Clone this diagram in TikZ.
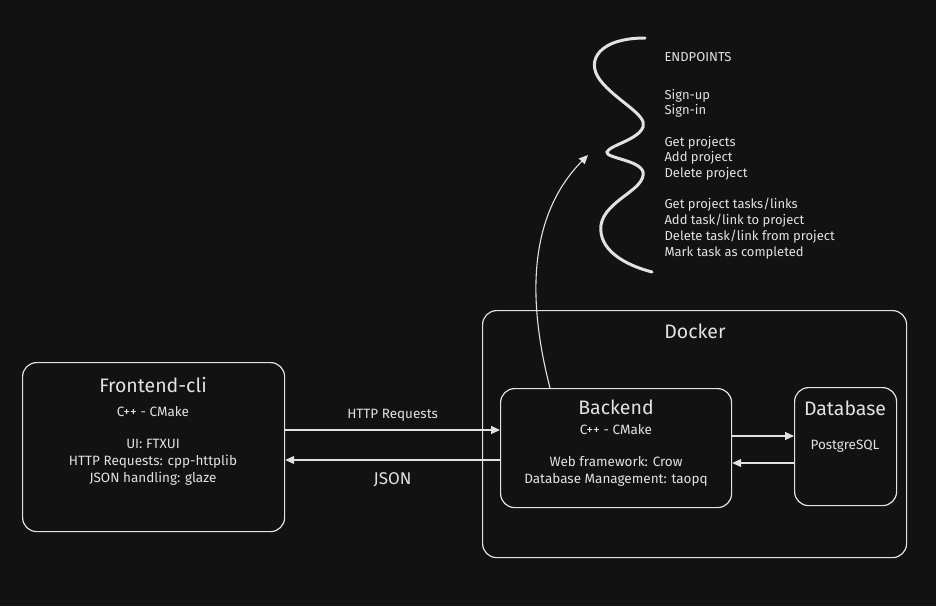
\documentclass[tikz,border=0pt]{standalone}
\usepackage{fontspec}
\setmainfont{Fira Sans}
\usetikzlibrary{arrows.meta}
\definecolor{board}{HTML}{121212}
\definecolor{chalk}{HTML}{E2E2E2}
\tikzset{
box/.style={draw=chalk, line width=1.2pt, rounded corners=14pt, anchor=north west, inner sep=0pt},
label/.style={text=chalk, font=\fontsize{13.5}{17}\selectfont},
title/.style={text=chalk, font=\fontsize{19.5}{21}\selectfont},
arr/.style={draw=chalk, line width=1.1pt, -{Triangle[length=9pt,width=8pt]}}
}

\begin{document}
\begin{tikzpicture}[x=1pt, y=-1pt]
  \fill[board] (0,0) rectangle (936,606);
  \useasboundingbox (0,0) rectangle (936,606);
% boxes
\node[box, minimum width=262pt, minimum height=169pt] (frontend) at (22,362) {};
\node[box, minimum width=424pt, minimum height=247pt] (docker) at (482,310) {};
\node[box, minimum width=231pt, minimum height=119pt] (backend) at (500,388) {};
\node[box, minimum width=102pt, minimum height=118pt] (database) at (794,387) {};
% texts
\node[title] (fetitle) at (153,385) {Frontend-cli};
\node[label] (fetool) at (153,412) {C++ - CMake};
\node[label, align=center] (felibs) at (153,462) {UI: FTXUI\\HTTP Requests: cpp-httplib\\JSON handling: glaze};
\node[title] (dktitle) at (695,331) {Docker};
\node[title] (betitle) at (616,407) {Backend};
\node[label] (betool) at (616,430) {C++ - CMake};
\node[label, align=center] (belibs) at (616,471) {Web framework: Crow\\Database Management: taopq};
\node[title] (dbtitle) at (845,408) {Database};
\node[label] (dbtool) at (845,446) {PostgreSQL};
% connectors
\draw[arr] (frontend.east |- 0,430) -- node[label, above=5pt] (req) {HTTP Requests} (backend.west |- 0,430);
\draw[arr] (backend.west |- 0,460) -- node[label, below=9pt, font=\fontsize{17}{19}\selectfont] (json) {JSON} (frontend.east |- 0,460);
\draw[arr] (backend.east |- 0,436) -- (database.west |- 0,436);
\draw[arr] (database.west |- 0,463) -- (backend.east |- 0,463);
% endpoints
\coordinate (ep) at (588,155);
\draw[arr] (backend.north -| 550,0) .. controls (530,310) and (524,220) .. (ep);
\draw[chalk, line width=3pt, line cap=round] (645,38) .. controls (600,38) and (585,60) .. (600,80)
  .. controls (615,100) and (648,115) .. (643,127) .. controls (638,140) and (610,145) .. (607,152)
  .. controls (605,158) and (640,160) .. (643,172) .. controls (646,190) and (605,200) .. (601,225)
  .. controls (598,250) and (625,265) .. (652,272);
\node[label, anchor=north west, align=left, font=\fontsize{13}{15.7}\selectfont] (endpoints) at (661,49)
  {ENDPOINTS\\[6pt]\mbox{}\\Sign-up\\Sign-in\\\mbox{}\\Get projects\\Add project\\Delete project\\\mbox{}\\Get project tasks/links\\Add task/link to project\\Delete task/link from project\\Mark task as completed};
\end{tikzpicture}
\end{document}
